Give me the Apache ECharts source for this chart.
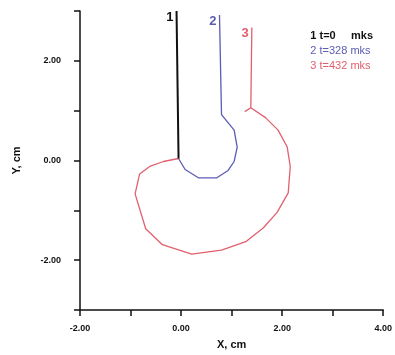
<!DOCTYPE html>
<html><head><meta charset="utf-8">
<script src="https://cdn.jsdelivr.net/npm/echarts@6/dist/echarts.min.js"></script>
<style>html,body{margin:0;padding:0;background:#fff}#c{width:395px;height:355px}</style>
</head><body><div id="c"></div>
<script>
// Curve 1 (t=0 mks)
const curve1 = [[-0.09, 3.0], [-0.05, 0.04]];
// Curve 2 (t=328 mks)
const curve2 = [[0.76, 2.92], [0.80, 0.92], [1.05, 0.61], [1.11, 0.27], [1.05, -0.02], [0.93, -0.20],
  [0.70, -0.35], [0.35, -0.35], [0.08, -0.18], [-0.05, 0.04]];
// Curve 3 (t=432 mks)
const curve3 = [[1.40, 2.67], [1.38, 1.06], [1.26, 0.98], [1.38, 1.06], [1.67, 0.86], [1.92, 0.61],
  [2.10, 0.27], [2.16, -0.12], [2.12, -0.65], [1.90, -1.04], [1.63, -1.35], [1.28, -1.63],
  [0.80, -1.80], [0.21, -1.88], [-0.37, -1.69], [-0.70, -1.37], [-0.91, -0.67], [-0.82, -0.27],
  [-0.62, -0.12], [-0.35, -0.02], [-0.05, 0.04]];
const curveNames = ['1 t=0     mks', '2 t=328 mks', '3 t=432 mks'];
const curveTags = ['1', '2', '3'];
const colors = ['#111111', '#5a5cb4', '#e0606e'];
const xRange = [-2, 4];
const yRange = [-3, 3];

const chart = echarts.init(document.getElementById('c'));
function mk(i, data) {
  return {
    name: curveNames[i], type: 'line', symbol: 'circle', symbolSize: 0, showSymbol: true,
    clip: false,
    lineStyle: {color: colors[i], width: i === 0 ? 2 : 1.3},
    itemStyle: {color: colors[i]},
    label: {show: false},
    data: data.map((p, k) => k === 0 ? {value: p, label: {show: true, formatter: curveTags[i], position: 'left', distance: 3,
      color: colors[i], fontSize: 13, fontWeight: 'bold', fontFamily: 'Liberation Sans', offset: [0, 6]}} : p),
    z: 3 - i
  };
}
const fmt = v => (Math.abs(v % 2) < 1e-9) ? v.toFixed(2) : '';
chart.setOption({
  animation: false,
  grid: {left: 80, right: 5, top: 11, bottom: 38},
  legend: {
    orient: 'vertical', right: 17, top: 25, itemGap: 4, icon: 'none', itemWidth: 0, itemHeight: 9,
    selectedMode: false,
    data: curveNames.map((n, i) => ({name: n, textStyle: {color: colors[i], fontWeight: i === 0 ? 'bold' : 'normal'}})),
    textStyle: {fontSize: 11, fontFamily: 'Liberation Sans'}
  },
  xAxis: {
    type: 'value', min: xRange[0], max: xRange[1], interval: 1,
    name: 'X, cm', nameLocation: 'middle', nameGap: 29,
    nameTextStyle: {fontSize: 11, fontWeight: 'bold', color: '#111', fontFamily: 'Liberation Sans'},
    axisLine: {onZero: false, lineStyle: {color: '#111', width: 1.5}},
    axisTick: {length: 6, lineStyle: {color: '#111', width: 1.5}},
    axisLabel: {formatter: fmt, margin: 14, fontSize: 9, fontWeight: 'bold', color: '#111', fontFamily: 'Liberation Sans', showMaxLabel: true},
    splitLine: {show: false}
  },
  yAxis: {
    type: 'value', min: yRange[0], max: yRange[1], interval: 1,
    name: 'Y, cm', nameLocation: 'middle', nameGap: 58, nameRotate: 90,
    nameTextStyle: {fontSize: 11, fontWeight: 'bold', color: '#111', fontFamily: 'Liberation Sans'},
    axisLine: {onZero: false, lineStyle: {color: '#111', width: 1.5}},
    axisTick: {length: 6, lineStyle: {color: '#111', width: 1.5}},
    axisLabel: {formatter: fmt, margin: 19, fontSize: 9, fontWeight: 'bold', color: '#111', fontFamily: 'Liberation Sans'},
    splitLine: {show: false}
  },
  series: [mk(0, curve1), mk(1, curve2), mk(2, curve3)]
});
</script></body></html>
